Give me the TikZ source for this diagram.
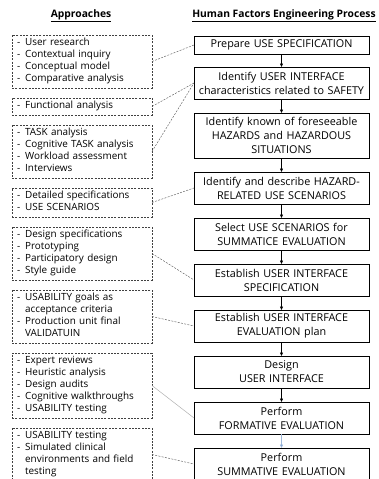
\documentclass[tikz,border=0pt]{standalone}
\usepackage{fontspec}
\setmainfont{Open Sans}
\usetikzlibrary{positioning, arrows.meta}
\definecolor{linkgrey}{HTML}{6A6A6A}
\definecolor{fadegrey}{HTML}{B0B0B0}
\definecolor{selblue}{HTML}{9FB8DA}
\definecolor{tipblue}{HTML}{4F86C6}

\newcommand{\methodlist}[1]{%
  \begin{tabular}{@{}l@{\hspace{5pt}}l@{}}#1\end{tabular}}

\begin{document}
\begin{tikzpicture}[
  x=1pt, y=-1pt,
  node distance=14pt,
  stagebox/.style={
    draw=black,
    line width=0.7pt,
    rectangle,
    minimum width=175pt,
    minimum height=32pt,
    text width=173pt,
    align=center,
    inner xsep=1pt,
    inner ysep=1.5pt,
    outer sep=0pt,
    font=\fontsize{10.8}{14}\selectfont
  },
  methodbox/.style={
    draw=black!75,
    line width=0.5pt,
    dash pattern=on 2pt off 1.3pt,
    rectangle,
    text width=130pt,
    align=left,
    inner xsep=5pt,
    inner ysep=2.5pt,
    outer sep=0pt,
    font=\fontsize{9.9}{12}\selectfont
  },
  headline/.style={font=\fontsize{10.3}{12}\selectfont\bfseries},
  link/.style={linkgrey, line width=0.5pt, dash pattern=on 2pt off 1.3pt},
  flow/.style={-{Triangle[length=3.5pt,width=3pt]}, line width=0.6pt}
]
  \useasboundingbox (0,0) rectangle (379,479);

  % --- Headings ---
  \node[headline] (hleft)  at (81,16)  {\underline{Approaches}};
  \node[headline] (hright) at (284,16) {\underline{Human Factors Engineering Process}};

  % --- Process steps stacked top-down ---
  \node[stagebox, minimum height=18pt, anchor=north] (r1) at (281.5,36) {Prepare USE SPECIFICATION};
  \node[stagebox, below=13pt of r1] (r2) {Identify USER INTERFACE\\characteristics related to SAFETY};
  \node[stagebox, minimum height=45pt, below=of r2] (r3) {Identify known of foreseeable\\HAZARDS and HAZARDOUS\\SITUATIONS};
  \node[stagebox, below=of r3]  (r4) {Identify and describe HAZARD-\\RELATED USE SCENARIOS};
  \node[stagebox, below=of r4]  (r5) {Select USE SCENARIOS for\\SUMMATICE EVALUATION};
  \node[stagebox, below=of r5]  (r6) {Establish USER INTERFACE\\SPECIFICATION};
  \node[stagebox, below=of r6]  (r7) {Establish USER INTERFACE\\EVALUATION plan};
  \node[stagebox, below=of r7]  (r8) {Design\\USER INTERFACE};
  \node[stagebox, below=of r8]  (r9) {Perform\\FORMATIVE EVALUATION};
  \node[stagebox, below=of r9]  (r10) {Perform\\SUMMATIVE EVALUATION};

  % Arrows between steps
  \foreach \a/\b in {r1/r2, r2/r3, r3/r4, r4/r5, r5/r6, r6/r7, r7/r8, r8/r9}
    \draw[flow] (\a) -- (\b);
  \draw[flow, selblue, -{Triangle[length=3.5pt,width=3pt,fill=tipblue]}] (r9) -- (r10);

  % --- Approaches (dashed boxes, left column) ---
  \node[methodbox, anchor=north west] (l1) at (12,35) {\methodlist{
    - & User research\\ - & Contextual inquiry\\ - & Conceptual model\\ - & Comparative analysis}};
  \node[methodbox, below=10pt of l1] (l2) {\methodlist{- & Functional analysis}};
  \node[methodbox, below=10pt of l2] (l3) {\methodlist{
    - & TASK analysis\\ - & Cognitive TASK analysis\\ - & Workload assessment\\ - & Interviews}};
  \node[methodbox, below=10pt of l3] (l4) {\methodlist{
    - & Detailed specifications\\ - & USE SCENARIOS}};
  \node[methodbox, below=10pt of l4] (l5) {\methodlist{
    - & Design specifications\\ - & Prototyping\\ - & Participatory design\\ - & Style guide}};
  \node[methodbox, below=10pt of l5] (l6) {\methodlist{
    - & USABILITY goals as\\ & acceptance criteria\\ - & Production unit final\\ & VALIDATUIN}};
  \node[methodbox, below=10pt of l6] (l7) {\methodlist{
    - & Expert reviews\\ - & Heuristic analysis\\ - & Design audits\\ - & Cognitive walkthroughs\\ - & USABILITY testing}};
  \node[methodbox, below=10pt of l7] (l8) {\methodlist{
    - & USABILITY testing\\ - & Simulated clinical\\ & environments and field\\ & testing}};

  % --- Links from approaches to steps ---
  \foreach \a/\b in {l1/r1, l2/r2, l3/r2, l4/r4, l5/r6, l6/r7, l8/r10}
    \draw[link] (\a.east) -- (\b.west);
  \draw[fadegrey, line width=0.5pt] (l7.east) -- (r9.west);

\end{tikzpicture}
\end{document}
